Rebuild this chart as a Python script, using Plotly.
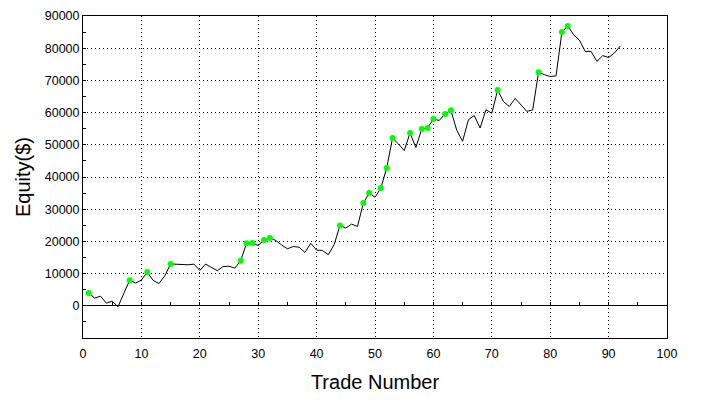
import plotly.graph_objects as go

trades = list(range(1, 93))
equity = [
    3940, 2380, 3000, 830, 1450, -300, 3900, 7950, 7040, 8000,
    10460, 7900, 6900, 9300, 13000, 12900, 13000, 12730, 12940, 10970,
    12950, 12000, 10900, 12200, 12300, 11700, 13980, 19400, 19470, 18700,
    20450, 21030, 20300, 18900, 17700, 18420, 18200, 16560, 19400, 17300,
    17180, 15870, 18950, 24950, 24130, 25370, 24640, 31900, 35000, 33700,
    36550, 42770, 52080, 50300, 48200, 53630, 49170, 54880, 55190, 57990,
    57560, 59600, 60700, 54500, 51100, 57800, 59100, 55200, 60900, 59800,
    66990, 63400, 61900, 64400, 62400, 60400, 60800, 72500, 71800, 71200,
    71400, 85000, 86900, 84200, 82500, 79000, 79000, 75900, 77700, 77100,
    78500, 80700,
]
high_trades = [1, 8, 11, 15, 27, 28, 29, 31, 32, 44, 48, 49, 51, 52, 53,
               56, 58, 59, 60, 62, 63, 71, 78, 82, 83]
high_equity = [equity[t - 1] for t in high_trades]

x_ticks = list(range(0, 101, 10))
x_minor = list(range(0, 101, 5))
y_ticks = list(range(0, 90001, 10000))
y_labels = [str(v) for v in y_ticks]
y_minor = list(range(-10000, 90001, 5000))

FONT = "Arial, Liberation Sans, sans-serif"

fig = go.Figure()
# invisible helper trace so the zero-line tick axis is rendered
fig.add_trace(go.Scatter(x=x_minor, y=[0] * len(x_minor), xaxis="x2",
                         mode="none", hoverinfo="skip"))
fig.add_trace(go.Scatter(x=trades, y=equity, mode="lines",
                         line=dict(color="black", width=1), hoverinfo="skip"))
fig.add_trace(go.Scatter(x=high_trades, y=high_equity, mode="markers",
                         marker=dict(color="#00ff00", size=6, line=dict(width=0)),
                         hoverinfo="skip"))

grid = dict(showgrid=True, gridcolor="black", gridwidth=1, griddash="1px,3px")

fig.update_layout(
    width=702, height=415,
    margin=dict(l=75, r=43, t=8, b=85),
    paper_bgcolor="white", plot_bgcolor="white",
    showlegend=False,
    font=dict(family=FONT, color="black", size=12.5),
    xaxis=dict(
        range=[0, 100], tickmode="array", tickvals=x_ticks,
        ticks="", showline=True, linecolor="black", linewidth=1, mirror=True,
        zeroline=False, ticklabelstandoff=4, automargin=False,
        tickfont=dict(size=12.5),
        title=dict(text="Trade Number", font=dict(size=20), standoff=14),
        **grid,
    ),
    xaxis2=dict(
        range=[0, 100], overlaying="x", anchor="free", position=0.1,
        tickmode="array", tickvals=x_minor, ticks="inside", ticklen=4,
        tickcolor="black", showticklabels=False, showline=False,
        showgrid=False, zeroline=False, automargin=False,
    ),
    yaxis=dict(
        range=[-10000, 90000], tickmode="array", tickvals=y_ticks,
        ticktext=y_labels,
        ticks="inside", ticklen=3, tickcolor="black",
        minor=dict(tickvals=y_minor, ticks="inside", ticklen=3,
                   tickcolor="black", showgrid=False),
        showline=True, linecolor="black", linewidth=1, mirror=True,
        zeroline=True, zerolinecolor="black", zerolinewidth=1,
        tickfont=dict(size=12.5), ticklabelstandoff=0, automargin=False,
        title=dict(text="Equity($)", font=dict(size=20), standoff=8),
        **grid,
    ),
)

fig.write_html("out.html")
